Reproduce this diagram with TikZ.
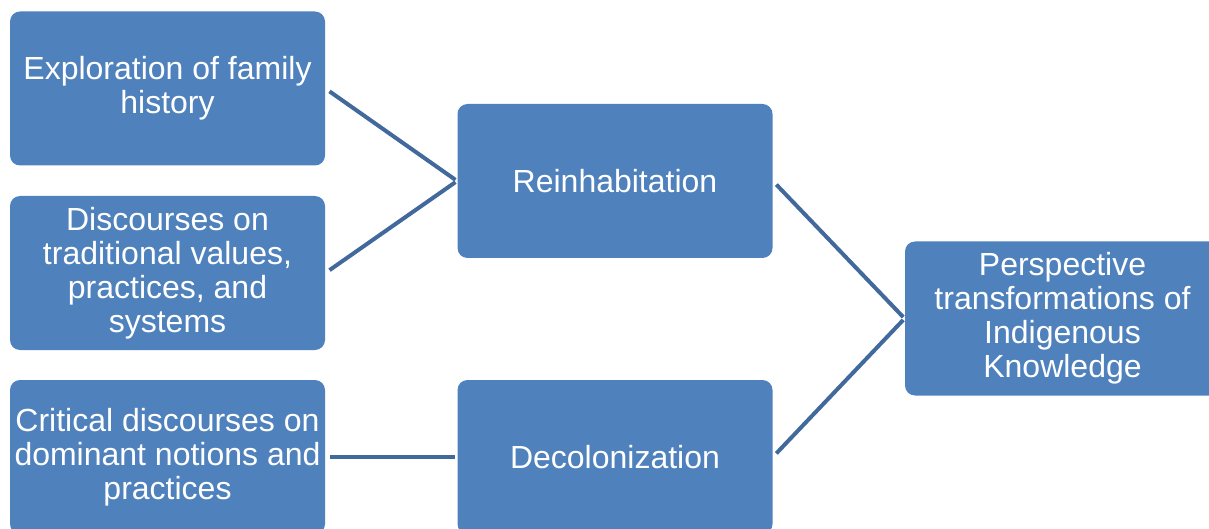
\documentclass[tikz,border=0pt]{standalone}
\usepackage{fontspec}
\setmainfont{Liberation Sans}
\definecolor{boxblue}{HTML}{4F81BD}
\definecolor{linkblue}{HTML}{41699C}

\begin{document}
\begin{tikzpicture}[x=0.5pt,y=-0.5pt,
	card/.style={fill=boxblue,rounded corners=5pt,text=white,align=center,
		minimum width=157.5pt,minimum height=77pt,inner sep=0pt,
		font=\fontsize{16}{17}\selectfont},
	link/.style={linkblue,line width=2pt,shorten <=2.5pt,shorten >=1pt}]
	\useasboundingbox (0,0) rectangle (1209,529);
	\clip (0,0) rectangle (1209,529);
	\node[card] (family) at (167.5,88.5) {Exploration of family\\history};
	\node[card] (values) at (167.5,273) {Discourses on\\traditional values,\\practices, and\\systems};
	\node[card] (critical) at (167.5,457) {Critical discourses on\\dominant notions and\\practices};
	\node[card] (rein) at (615,181) {Reinhabitation};
	\node[card] (decol) at (615,457) {Decolonization};
	\node[card] (persp) at (1062.5,318.5) {Perspective\\transformations of\\Indigenous\\Knowledge};
	\draw[link] (family.east) -- (rein.west);
	\draw[link] (values.east) -- (rein.west);
	\draw[link] (critical.east) -- (decol.west);
	\draw[link] (rein.east) -- (persp.west);
	\draw[link] (decol.east) -- (persp.west);
\end{tikzpicture}
\end{document}
